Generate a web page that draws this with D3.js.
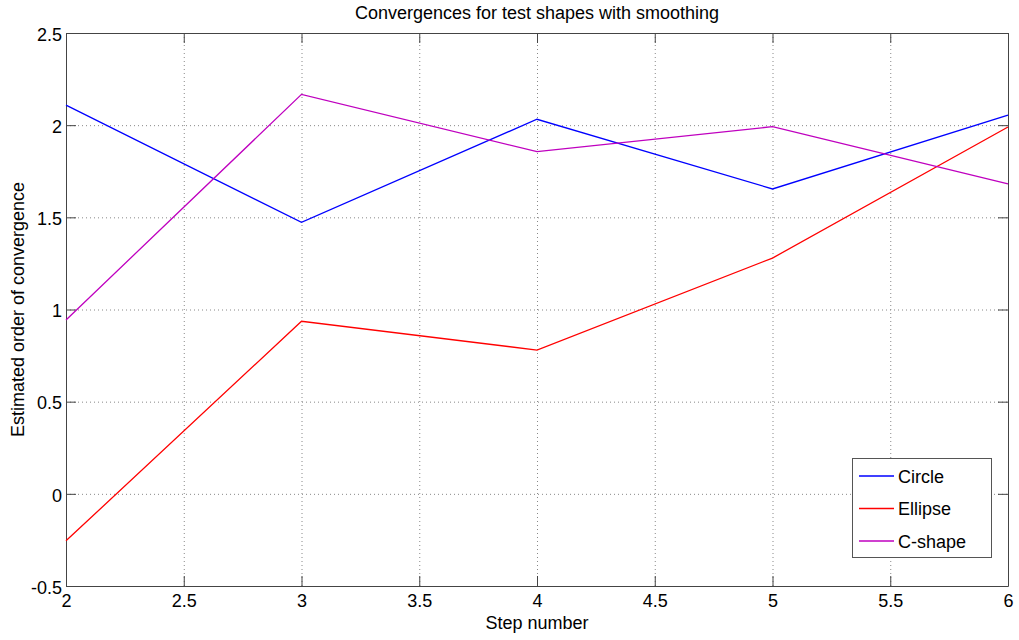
<!DOCTYPE html>
<html><head><meta charset="utf-8">
<script src="https://cdn.jsdelivr.net/npm/d3@7"></script>
<style>body{margin:0;background:#fff;} text{font-family:"Liberation Sans",Arial,sans-serif;}</style>
</head><body>
<svg id="c" width="1019" height="640"></svg>
<script>
const steps = [2, 3, 4, 5, 6];
const circle = [2.109, 1.473, 2.032, 1.654, 2.055];
const ellipse = [-0.255, 0.936, 0.78, 1.279, 1.99];
const cshape = [0.943, 2.167, 1.856, 1.992, 1.681];
const seriesNames = ["Circle", "Ellipse", "C-shape"];
const seriesColors = ["#0000ff", "#ff0000", "#bf00bf"];
const xTicks = [2, 2.5, 3, 3.5, 4, 4.5, 5, 5.5, 6];
const yTicks = [-0.5, 0, 0.5, 1, 1.5, 2, 2.5];

const svg = d3.select("#c");
const L = 66, R = 1008, T = 33, B = 586;
const FS = "18px";
const x = d3.scaleLinear().domain([2, 6]).range([L, R]);
const y = d3.scaleLinear().domain([-0.5, 2.5]).range([B, T]);
const fmt = d => String(d);

// grid
const g = svg.append("g");
g.selectAll("line.gx").data(xTicks.slice(1, -1)).enter().append("line")
  .attr("x1", d => x(d) + 0.5).attr("x2", d => x(d) + 0.5).attr("y1", T).attr("y2", B)
  .attr("stroke", "#888").attr("stroke-dasharray", "1,3").attr("stroke-width", 1);
g.selectAll("line.gy").data(yTicks.slice(1, -1)).enter().append("line")
  .attr("y1", d => y(d) + 0.5).attr("y2", d => y(d) + 0.5).attr("x1", L).attr("x2", R)
  .attr("stroke", "#888").attr("stroke-dasharray", "1,3").attr("stroke-width", 1);

// axes (inward ticks)
const axC = "#444";
const bx = svg.append("g").attr("transform", `translate(0,${B})`).call(d3.axisBottom(x).tickValues(xTicks).tickFormat(fmt).tickSizeInner(-10).tickSizeOuter(0).tickPadding(8));
const tx = svg.append("g").attr("transform", `translate(0,${T})`).call(d3.axisTop(x).tickValues(xTicks).tickFormat("").tickSizeInner(-10).tickSizeOuter(0));
const ly = svg.append("g").attr("transform", `translate(${L},0)`).call(d3.axisLeft(y).tickValues(yTicks).tickFormat(fmt).tickSizeInner(-10).tickSizeOuter(0).tickPadding(4));
const ry = svg.append("g").attr("transform", `translate(${R},0)`).call(d3.axisRight(y).tickValues(yTicks).tickFormat("").tickSizeInner(-10).tickSizeOuter(0));
[bx, tx, ly, ry].forEach(a => {
  a.selectAll("path").attr("stroke", axC);
  a.selectAll("line").attr("stroke", axC);
  a.selectAll("text").attr("fill", "#000").style("font-size", FS).style("font-family", "'Liberation Sans',Arial,sans-serif");
});
ly.selectAll("text").attr("dy", "0.4em");

// lines
const data = [circle, ellipse, cshape];
const line = d3.line().x((d, i) => x(steps[i])).y(d => y(d));
svg.append("g").selectAll("path").data(data).enter().append("path")
  .attr("d", d => line(d)).attr("fill", "none")
  .attr("stroke", (d, i) => seriesColors[i]).attr("stroke-width", 1.3);

// title and labels
svg.append("text").attr("x", (L + R) / 2).attr("y", 19).attr("text-anchor", "middle")
  .style("font-size", FS).text("Convergences for test shapes with smoothing");
svg.append("text").attr("x", (L + R) / 2).attr("y", 629).attr("text-anchor", "middle")
  .style("font-size", FS).text("Step number");
svg.append("text").attr("transform", `translate(24,${(T + B) / 2}) rotate(-90)`).attr("text-anchor", "middle")
  .style("font-size", FS).text("Estimated order of convergence");

// legend
const lg = svg.append("g");
lg.append("rect").attr("x", 852.5).attr("y", 458.5).attr("width", 139).attr("height", 99)
  .attr("fill", "#fff").attr("stroke", "#555");
seriesNames.forEach((n, i) => {
  const yy = 476 + i * 32.5;
  lg.append("line").attr("x1", 859).attr("x2", 894).attr("y1", yy).attr("y2", yy)
    .attr("stroke", seriesColors[i]).attr("stroke-width", 1.3);
  lg.append("text").attr("x", 898).attr("y", yy).attr("dy", "0.38em").style("font-size", FS).text(n);
});
</script>
</body></html>
